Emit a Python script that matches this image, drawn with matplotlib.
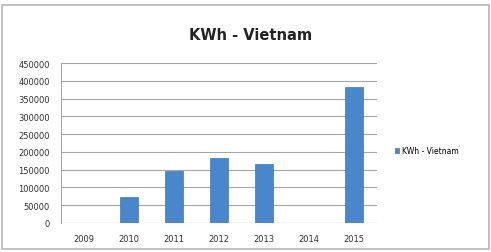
import matplotlib
matplotlib.use("Agg")
import matplotlib.pyplot as plt
from matplotlib.patches import Rectangle

years = ["2009", "2010", "2011", "2012", "2013", "2014", "2015"]
kwh = [0, 73000, 145000, 184000, 165000, 0, 383000]
yticks = list(range(0, 450001, 50000))

fig = plt.figure(figsize=(4.91, 2.53), dpi=100)
fig.patch.set_facecolor("white")
# outer frame of the chart
fig.add_artist(Rectangle((0.004, 0.01), 0.992, 0.965, transform=fig.transFigure,
                         fill=False, edgecolor="#b8b8b8", linewidth=1.2))

ax = fig.add_axes([0.124, 0.115, 0.643, 0.632])
x = range(len(years))
ax.bar(x, kwh, width=0.4, color="#4a86cc", edgecolor="#3f77bb", linewidth=0.5,
       label="KWh - Vietnam", zorder=3)
ax.set_xlim(-0.5, len(years) - 0.5)
ax.set_ylim(0, 450000)
ax.set_yticks(yticks)
ax.set_yticklabels([str(v) for v in yticks], fontsize=6, color="#333333")
ax.set_xticks(list(x))
ax.set_xticklabels(years, fontsize=6, color="#333333")
ax.yaxis.grid(True, color="#a6a6a6", linewidth=0.8, zorder=0)
ax.tick_params(axis="both", length=0, pad=8)
for s in ["top", "right", "bottom"]:
    ax.spines[s].set_visible(False)
ax.spines["left"].set_color("#a6a6a6")
ax.axhline(0, color="#a6a6a6", linewidth=0.8, zorder=2)

fig.text(0.51, 0.86, "KWh - Vietnam", ha="center", va="center",
         fontsize=10.5, fontweight="bold", color="#222222")
fig.legend(loc="center left", bbox_to_anchor=(0.79, 0.40), frameon=False,
           fontsize=5.5, handlelength=0.6, handleheight=0.6, handletextpad=0.4)

fig.savefig("out.png", dpi=100)
